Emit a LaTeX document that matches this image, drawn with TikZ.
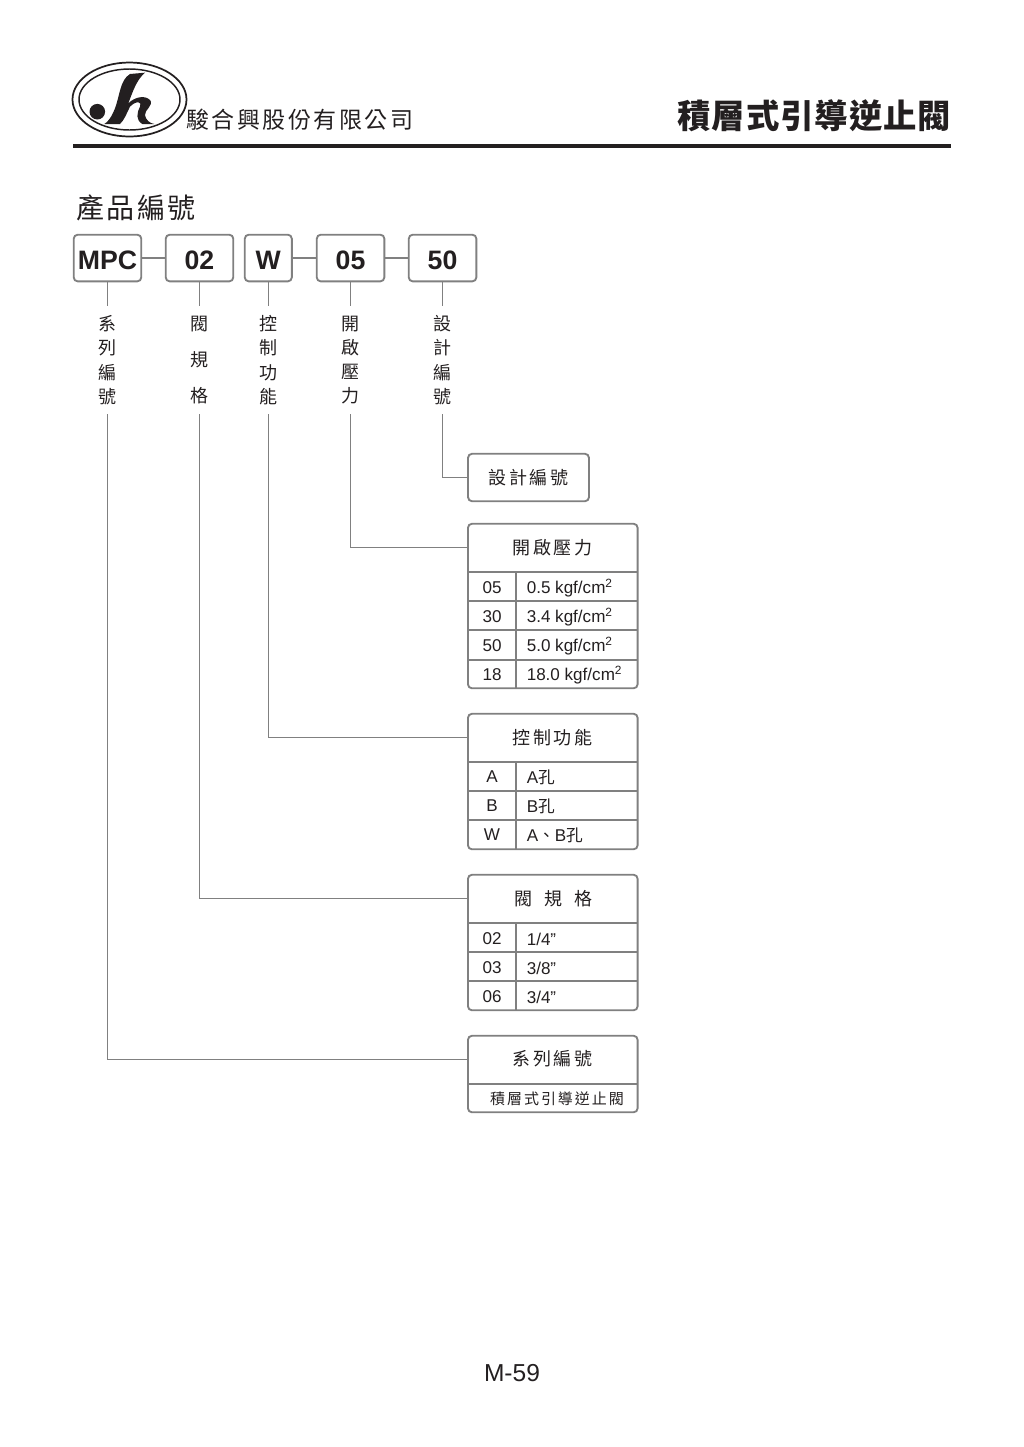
\documentclass[tikz,border=0pt]{standalone}
\usepackage{fontspec}
\setmainfont{Liberation Sans}
\newfontfamily\cjk{Noto Sans CJK TC}
\usetikzlibrary{positioning}

\definecolor{ink}{HTML}{231F20}
\definecolor{frame}{HTML}{808080}

\begin{document}
\begin{tikzpicture}[
        x=.75pt, y=-.75pt,
        partnode/.style={rectangle, rounded corners=3pt, draw=frame, line width=1.4pt, outer sep=0pt, text=ink, minimum height=35pt, inner sep=0pt, text height=17.4pt, text depth=0pt, font=\bfseries\fontsize{20}{24}\selectfont},
        labelnode/.style={inner sep=0pt, outer sep=0pt, minimum height=81pt, minimum width=15pt, align=center, text=ink, font=\cjk\fontsize{13.5}{18.2}\selectfont},
        headnode/.style={inner sep=0pt, outer sep=0pt, minimum width=127.1pt, minimum height=35.6pt, text=ink, font=\cjk\fontsize{13.5}{16}\selectfont\addfontfeature{LetterSpace=14}},
        codenode/.style={inner sep=0pt, text=ink, font=\fontsize{12.8}{15}\selectfont},
        valuenode/.style={codenode, anchor=west},
        stub/.style={draw=frame, line width=1.2pt},
        link/.style={draw=frame, line width=1.2pt},
        tableframe/.style={draw=frame, line width=1.4pt, rounded corners=3pt},
        tablerule/.style={draw=frame, line width=1.4pt},
    ]
    \useasboundingbox (0,0) rectangle (1024,1447);

    % logo
    \draw[ink, line width=1.3pt] (129.5,99.5) ellipse [x radius=57, y radius=37];
    \draw[ink, line width=1.1pt] (129.5,99.5) ellipse [x radius=50.5, y radius=30.5];
    \fill[ink] (97.3,111.7) circle [radius=7.8];
    \begin{scope}[shift={(65,55)}, scale=1/3]
        \fill[ink] (195,57) -- (240,53) .. controls (215,75) and (205,105) .. (190,145)
            .. controls (210,125) and (240,120) .. (255,135)
            .. controls (268,150) and (238,165) .. (240,180)
            .. controls (242,195) and (255,205) .. (268,207) -- (232,207)
            .. controls (212,195) and (215,175) .. (225,155)
            .. controls (232,140) and (215,135) .. (195,155)
            .. controls (185,175) and (178,195) .. (165,207) -- (118,207)
            .. controls (130,200) and (140,185) .. (150,160)
            .. controls (165,120) and (165,75) .. (195,57) -- cycle;
    \end{scope}

    % page head
    \node[inner sep=0pt, anchor=west, text=ink, font=\cjk\fontsize{17.25}{20}\selectfont\addfontfeature{LetterSpace=11}] (company) at (186,120) {駿合興股份有限公司};
    \node[inner sep=0pt, anchor=east, text=ink, font=\cjk\bfseries\fontsize{25}{30}\selectfont\addfontfeature{LetterSpace=3}] (title) at (951.5,116) {積層式引導逆止閥};
    \coordinate (ruleleft) at (73,146);
    \coordinate (ruleright) at (951,146);
    \draw[ink, line width=2.4pt] (ruleleft) -- (ruleright);
    \node[inner sep=0pt, anchor=west, text=ink, font=\cjk\fontsize{21}{25}\selectfont\addfontfeature{LetterSpace=9}] (heading) at (76,208) {產品編號};

    % part number boxes
    \node[partnode, minimum width=50.7pt, anchor=north west] (series) at (73.7,234.7) {MPC};
    \node[partnode, minimum width=50.7pt] (size)     [right=18.3pt of series]  {02};
    \node[partnode, minimum width=35.3pt] (control)  [right=8.6pt of size]   {W};
    \node[partnode, minimum width=50.7pt] (pressure) [right=18.7pt of control] {05};
    \node[partnode, minimum width=50.7pt] (design)   [right=18.3pt of pressure] {50};

    \path[stub] (series)   edge (size);
    \path[stub] (control)  edge (pressure);
    \path[stub] (pressure) edge (design);

    % vertical captions
    \node[labelnode] (serieslabel)   [below=18.5pt of series]   {系\\列\\編\\號};
    \node[labelnode, font=\cjk\fontsize{13.5}{27}\selectfont] (sizelabel) [below=18.5pt of size] {閥\\規\\格};
    \node[labelnode] (controllabel)  [below=18.5pt of control]  {控\\制\\功\\能};
    \node[labelnode] (pressurelabel) [below=18.5pt of pressure] {開\\啟\\壓\\力};
    \node[labelnode] (designlabel)   [below=18.5pt of design]   {設\\計\\編\\號};

    \foreach \part in {series,size,control,pressure,design}
        \path[stub] (\part) edge (\part label);

    % design table
    \node[headnode, minimum width=90.7pt] (designhead) at (528.5,477.5) {設計編號};
    \draw[tableframe] (designhead.north west) rectangle (designhead.south east);
    \draw[link] (designlabel) |- (designhead);

    % pressure table
    \node[headnode] (pressurehead) at (552.7,547.5) {開啟壓力};
    \draw[tableframe] (pressurehead.north west) rectangle (637.6,688.3);
    \draw[link] (pressurelabel) |- (pressurehead);
    \draw[tablerule] (516,572) -- (516,688.3);
    \foreach \y in {572,601,630,660}
        \draw[tablerule] (467.9,\y) -- (637.6,\y);
    \foreach \code/\val/\y/\i in {05/0.5/588/a,30/3.4/617/b,50/5.0/646/c,18/18.0/675/d} {
        \node[codenode] (pressurecode\i) at (492,\y) {\code};
        \node[valuenode] (pressureval\i) at (526.5,\y) {\val{} kgf/cm\textsuperscript{2}};
    }

    % control table
    \node[headnode] (controlhead) at (552.7,737.5) {控制功能};
    \draw[tableframe] (controlhead.north west) rectangle (637.6,849.3);
    \draw[link] (controllabel) |- (controlhead);
    \draw[tablerule] (516,762) -- (516,849.3);
    \foreach \y in {762,791,820}
        \draw[tablerule] (467.9,\y) -- (637.6,\y);
    \node[codenode] (controlcodea) at (492,777) {A};
    \node[codenode] (controlcodeb) at (492,806) {B};
    \node[codenode] (controlcodec) at (492,835) {W};
    \node[valuenode] (controlvala) at (526.5,777) {A{\cjk\fontsize{12.5}{15}\selectfont 孔}};
    \node[valuenode] (controlvalb) at (526.5,806) {B{\cjk\fontsize{12.5}{15}\selectfont 孔}};
    \node[valuenode] (controlvalc) at (526.5,835) {A{\cjk\fontsize{12.5}{15}\selectfont 、}B{\cjk\fontsize{12.5}{15}\selectfont 孔}};

    % size table
    \node[headnode, font=\cjk\fontsize{13.5}{16}\selectfont] (sizehead) at (552.7,898.5) {\hspace*{1.5pt}閥\hspace{9pt}規\hspace{9pt}格};
    \draw[tableframe] (sizehead.north west) rectangle (637.6,1010.3);
    \draw[link] (sizelabel) |- (sizehead);
    \draw[tablerule] (516,923) -- (516,1010.3);
    \foreach \y in {923,952,981}
        \draw[tablerule] (467.9,\y) -- (637.6,\y);
    \foreach \code/\val/\y in {02/1\slash 4”/939,03/3\slash 8”/968,06/3\slash 4”/997} {
        \node[codenode] (sizecode\code) at (492,\y) {\code};
        \node[valuenode] (sizeval\code) at (526.5,\y) {\val};
    }

    % series table
    \node[headnode] (serieshead) at (552.7,1059.5) {\raisebox{3pt}{系列編號}};
    \draw[tableframe] (serieshead.north west) rectangle (637.6,1112.3);
    \draw[link] (serieslabel) |- (serieshead);
    \draw[tablerule] (467.9,1084) -- (637.6,1084);
    \node[inner sep=0pt, text=ink, font=\cjk\fontsize{11.25}{13}\selectfont\addfontfeature{LetterSpace=13}] (seriesval) at (557,1099) {積層式引導逆止閥};

    % page number
    \node[inner sep=0pt, text=ink, font=\fontsize{18.4}{22}\selectfont] (pagenum) at (512,1373) {M-59};
\end{tikzpicture}
\end{document}
